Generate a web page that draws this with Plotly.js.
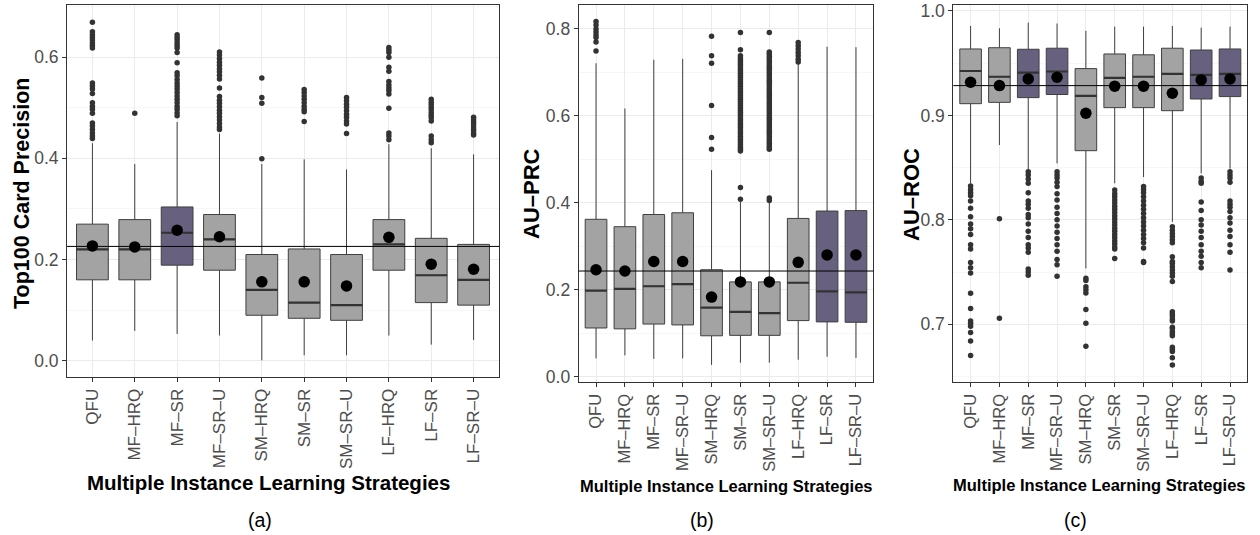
<!DOCTYPE html>
<html>
<head>
<meta charset="utf-8">
<script src="https://cdn.plot.ly/plotly-3.0.1.min.js"></script>
<style>html,body{margin:0;padding:0;background:#fff}#chart{width:1260px;height:535px}</style>
</head>
<body>
<div id="chart"></div>
<script>
// ---------- data ----------
const categories = ['QFU','MF–HRQ','MF–SR','MF–SR–U','SM–HRQ','SM–SR','SM–SR–U','LF–HRQ','LF–SR','LF–SR–U'];

// (a) Top100 Card Precision
const precQ1     = [0.160, 0.160, 0.189, 0.179, 0.090, 0.084, 0.080, 0.179, 0.115, 0.110];
const precMedian = [0.220, 0.220, 0.253, 0.240, 0.140, 0.115, 0.110, 0.230, 0.169, 0.160];
const precQ3     = [0.270, 0.279, 0.304, 0.289, 0.210, 0.221, 0.210, 0.279, 0.242, 0.230];
const precLow    = [0.040, 0.059, 0.053, 0.050, 0.001, 0.011, 0.011, 0.050, 0.032, 0.041];
const precHigh   = [0.430, 0.389, 0.472, 0.449, 0.389, 0.398, 0.378, 0.428, 0.420, 0.408];
const precMean   = [0.227, 0.225, 0.258, 0.245, 0.156, 0.156, 0.148, 0.244, 0.191, 0.181];
const precOutliers = [
  [0.669,0.650,0.644,0.639,0.634,0.628,0.623,0.618,0.549,0.543,0.537,0.528,0.510,0.503,0.497,0.489,0.470,0.464,0.457,0.450,0.444,0.439],
  [0.489],
  [0.644,0.639,0.634,0.628,0.623,0.618,0.609,0.589,0.569,0.563,0.556,0.549,0.543,0.537,0.530,0.523,0.517,0.510,0.503,0.497,0.490,0.484],
  [0.610,0.604,0.597,0.590,0.584,0.577,0.571,0.564,0.557,0.539,0.522,0.515,0.509,0.502,0.495,0.489,0.482,0.476,0.469,0.462,0.457],
  [0.559,0.520,0.509,0.399],
  [0.536,0.530,0.523,0.517,0.510,0.503,0.497,0.492,0.473],
  [0.520,0.514,0.507,0.501,0.494,0.487,0.481,0.474,0.468,0.449],
  [0.619,0.614,0.609,0.600,0.580,0.572,0.552,0.545,0.539,0.534,0.527,0.499,0.450,0.444,0.437],
  [0.517,0.511,0.506,0.501,0.496,0.490,0.485,0.480,0.474,0.444,0.437,0.431],
  [0.481,0.476,0.471,0.466,0.460,0.455,0.449,0.446]
];
const precHighlight = ['MF–SR'];
const precReference = 0.226;

// (b) AU-PRC
const prcQ1     = [0.112, 0.110, 0.121, 0.119, 0.094, 0.095, 0.095, 0.129, 0.126, 0.125];
const prcMedian = [0.198, 0.202, 0.208, 0.213, 0.159, 0.149, 0.146, 0.216, 0.196, 0.194];
const prcQ3     = [0.362, 0.345, 0.373, 0.377, 0.246, 0.218, 0.218, 0.364, 0.381, 0.382];
const prcLow    = [0.042, 0.049, 0.041, 0.042, 0.027, 0.032, 0.032, 0.039, 0.046, 0.043];
const prcHigh   = [0.721, 0.617, 0.729, 0.731, 0.475, 0.402, 0.402, 0.719, 0.759, 0.758];
const prcMean   = [0.246, 0.243, 0.265, 0.265, 0.183, 0.218, 0.218, 0.263, 0.280, 0.280];
const prcOutliers = [
  [0.817,0.809,0.800,0.793,0.786,0.780,0.770,0.749],
  [],
  [],
  [],
  [0.783,0.738,0.721,0.624,0.550,0.523],
  [0.792,0.752,0.738,0.733,0.728,0.723,0.718,0.713,0.708,0.703,0.698,0.693,0.688,0.683,0.678,0.673,0.668,0.663,0.658,0.653,0.648,0.643,0.638,0.633,0.628,0.623,0.618,0.613,0.608,0.603,0.598,0.593,0.588,0.583,0.578,0.573,0.568,0.563,0.558,0.553,0.548,0.543,0.538,0.533,0.528,0.523,0.519,0.435,0.408],
  [0.792,0.747,0.742,0.737,0.732,0.727,0.722,0.717,0.712,0.707,0.702,0.697,0.692,0.687,0.682,0.677,0.672,0.667,0.662,0.657,0.652,0.647,0.642,0.637,0.632,0.627,0.622,0.617,0.612,0.607,0.602,0.597,0.592,0.587,0.582,0.577,0.572,0.567,0.562,0.557,0.552,0.547,0.542,0.537,0.532,0.527,0.523,0.411,0.405],
  [0.769,0.761,0.754,0.746,0.738,0.730,0.724],
  [],
  []
];
const prcHighlight = ['LF–SR','LF–SR–U'];
const prcReference = 0.243;

// (c) AU-ROC
const rocQ1     = [0.9112, 0.9125, 0.9170, 0.9200, 0.8662, 0.9074, 0.9074, 0.9045, 0.9157, 0.9180];
const rocMedian = [0.9425, 0.9370, 0.9410, 0.9420, 0.9186, 0.9360, 0.9370, 0.9397, 0.9387, 0.9397];
const rocQ3     = [0.9636, 0.9648, 0.9633, 0.9643, 0.9448, 0.9588, 0.9580, 0.9643, 0.9626, 0.9636];
const rocLow    = [0.8350, 0.8716, 0.8480, 0.8540, 0.7535, 0.8350, 0.8410, 0.7980, 0.8445, 0.8490];
const rocHigh   = [0.9856, 0.9834, 0.9888, 0.9880, 0.9810, 0.9850, 0.9850, 0.9856, 0.9840, 0.9850];
const rocMean   = [0.9317, 0.9285, 0.9349, 0.9365, 0.9020, 0.9280, 0.9280, 0.9212, 0.9340, 0.9349];
const rocOutliers = [
  [0.8324,0.829,0.826,0.823,0.818,0.811,0.803,0.796,0.7915,0.786,0.776,0.772,0.759,0.754,0.749,0.7296,0.715,0.703,0.701,0.698,0.692,0.684,0.670],
  [0.801,0.7057],
  [0.846,0.843,0.839,0.835,0.826,0.818,0.815,0.811,0.805,0.802,0.796,0.789,0.783,0.776,0.773,0.769,0.753,0.750,0.747],
  [0.846,0.843,0.840,0.836,0.832,0.825,0.819,0.812,0.806,0.800,0.794,0.788,0.782,0.776,0.770,0.762,0.757,0.746],
  [0.744,0.742,0.736,0.733,0.730,0.714,0.701,0.679],
  [0.8285,0.825,0.822,0.819,0.816,0.813,0.810,0.807,0.804,0.801,0.798,0.795,0.792,0.789,0.786,0.783,0.780,0.777,0.774,0.772,0.763],
  [0.832,0.829,0.826,0.822,0.818,0.814,0.810,0.806,0.802,0.798,0.794,0.790,0.786,0.782,0.778,0.773,0.760,0.759],
  [0.7934,0.790,0.787,0.784,0.781,0.778,0.7647,0.7583,0.760,0.755,0.752,0.749,0.746,0.741,0.712,0.710,0.708,0.705,0.703,0.697,0.696,0.693,0.691,0.689,0.678,0.676,0.674,0.668,0.661],
  [0.840,0.837,0.835,0.817,0.809,0.800,0.795,0.789,0.783,0.776,0.770,0.765,0.759,0.754],
  [0.846,0.843,0.840,0.836,0.818,0.815,0.812,0.808,0.802,0.797,0.790,0.784,0.776,0.769,0.752]
];
const rocHighlight = ['MF–SR','MF–SR–U','LF–SR','LF–SR–U'];
const rocReference = 0.9285;

// ---------- styling ----------
const GRAY = '#A3A3A3', PURPLE = '#67617F', EDGE = '#3F3F3F';
const FONT = '"Liberation Sans", Arial, sans-serif';
const W = 1260, H = 535;

const traces = [];
const shapes = [];

function addPanel(ax, q1, med, q3, lo, hi, mean, outl, highlight, ref) {
  const xa = 'x' + ax, ya = 'y' + ax;
  categories.forEach((c, i) => {
    traces.push({
      type: 'box', x: [c], q1: [q1[i]], median: [med[i]], q3: [q3[i]],
      lowerfence: [lo[i]], upperfence: [hi[i]],
      width: 0.75, whiskerwidth: 0, boxpoints: false,
      fillcolor: highlight.includes(c) ? PURPLE : GRAY,
      line: { color: EDGE, width: 1 },
      xaxis: xa, yaxis: ya, showlegend: false, hoverinfo: 'skip'
    });
    // thicker median line
    traces.push({
      type: 'box', x: [c], q1: [med[i]], median: [med[i]], q3: [med[i]],
      lowerfence: [med[i]], upperfence: [med[i]],
      width: 0.75, whiskerwidth: 0, boxpoints: false,
      fillcolor: 'rgba(0,0,0,0)',
      line: { color: '#333333', width: 2.2 },
      xaxis: xa, yaxis: ya, showlegend: false, hoverinfo: 'skip'
    });
  });
  const ox = [], oy = [];
  outl.forEach((arr, i) => arr.forEach(v => { ox.push(categories[i]); oy.push(v); }));
  traces.push({
    type: 'scatter', mode: 'markers', x: ox, y: oy,
    marker: { color: '#333333', size: 5.5 },
    xaxis: xa, yaxis: ya, showlegend: false, hoverinfo: 'skip', cliponaxis: false
  });
  traces.push({
    type: 'scatter', mode: 'markers', x: categories, y: mean,
    marker: { color: '#000000', size: 11.5 },
    xaxis: xa, yaxis: ya, showlegend: false, hoverinfo: 'skip'
  });
  shapes.push({
    type: 'line', xref: xa + ' domain', yref: ya, x0: 0, x1: 1, y0: ref, y1: ref,
    line: { color: '#000000', width: 1 }, layer: 'above'
  });
}

addPanel('', precQ1, precMedian, precQ3, precLow, precHigh, precMean, precOutliers, precHighlight, precReference);
addPanel('2', prcQ1, prcMedian, prcQ3, prcLow, prcHigh, prcMean, prcOutliers, prcHighlight, prcReference);
addPanel('3', rocQ1, rocMedian, rocQ3, rocLow, rocHigh, rocMean, rocOutliers, rocHighlight, rocReference);

function xaxis(domPx, fs) {
  return {
    domain: [domPx[0] / W, domPx[1] / W], type: 'category',
    categoryorder: 'array', categoryarray: categories,
    range: [-0.6, 9.6], tickangle: -90,
    showgrid: true, gridcolor: '#EBEBEB', gridwidth: 1,
    showline: true, mirror: true, linecolor: '#333333', linewidth: 1,
    ticks: 'outside', ticklen: 4, tickcolor: '#333333', tickwidth: 1,
    tickfont: { family: FONT, size: fs, color: '#4D4D4D' },
    zeroline: false, fixedrange: true
  };
}
function yaxis(domPx, range, dtick, minorDtick, fs, anchor) {
  return {
    domain: [1 - domPx[1] / H, 1 - domPx[0] / H], range: range,
    anchor: anchor,
    tick0: 0, dtick: dtick, tickformat: '.1f',
    showgrid: true, gridcolor: '#EBEBEB', gridwidth: 1,
    minor: { dtick: minorDtick, tick0: 0, showgrid: true, gridcolor: '#F4F4F4', gridwidth: 0.7 },
    showline: true, mirror: true, linecolor: '#333333', linewidth: 1,
    ticks: 'outside', ticklen: 4, tickcolor: '#333333', tickwidth: 1,
    tickfont: { family: FONT, size: fs, color: '#4D4D4D' },
    zeroline: false, fixedrange: true
  };
}

const xa1 = xaxis([67, 499], 17);  xa1.anchor = 'y';
const xa2 = xaxis([578.7, 873.3], 16.5); xa2.anchor = 'y2';
const xa3 = xaxis([953.3, 1247.3], 16.5); xa3.anchor = 'y3';

function ann(text, px, py, size, bold, angle) {
  return {
    text: bold ? '<b>' + text + '</b>' : text,
    xref: 'paper', yref: 'paper', x: px / W, y: 1 - py / H,
    xanchor: 'center', yanchor: 'middle', showarrow: false,
    textangle: angle || 0,
    font: { family: FONT, size: size, color: '#000000' }
  };
}

const layout = {
  width: W, height: H,
  margin: { l: 0, r: 0, t: 0, b: 0 },
  paper_bgcolor: '#FFFFFF', plot_bgcolor: '#FFFFFF',
  showlegend: false, boxmode: 'overlay',
  xaxis: xa1, xaxis2: xa2, xaxis3: xa3,
  yaxis: yaxis([5, 377], [-0.032, 0.703], 0.2, 0.1, 17.5, 'x'),
  yaxis2: yaxis([5, 382.3], [-0.013, 0.855], 0.2, 0.1, 17.5, 'x2'),
  yaxis3: yaxis([5, 382.3], [0.6444, 1.0057], 0.1, 0.05, 17.5, 'x3'),
  shapes: shapes,
  annotations: [
    ann('Top100 Card Precision', 22, 194, 21.5, true, -90),
    ann('AU–PRC', 531, 194, 22, true, -90),
    ann('AU–ROC', 912, 195, 22, true, -90),
    ann('Multiple Instance Learning Strategies', 268, 482, 20.5, true),
    ann('Multiple Instance Learning Strategies', 726, 486, 16.5, true),
    ann('Multiple Instance Learning Strategies', 1099, 485, 16.5, true),
    ann('(a)', 260, 520, 19.5, false),
    ann('(b)', 702, 520, 19.5, false),
    ann('(c)', 1075, 520, 19.5, false)
  ]
};

Plotly.newPlot('chart', traces, layout, { staticPlot: true, displayModeBar: false });
</script>
</body>
</html>
